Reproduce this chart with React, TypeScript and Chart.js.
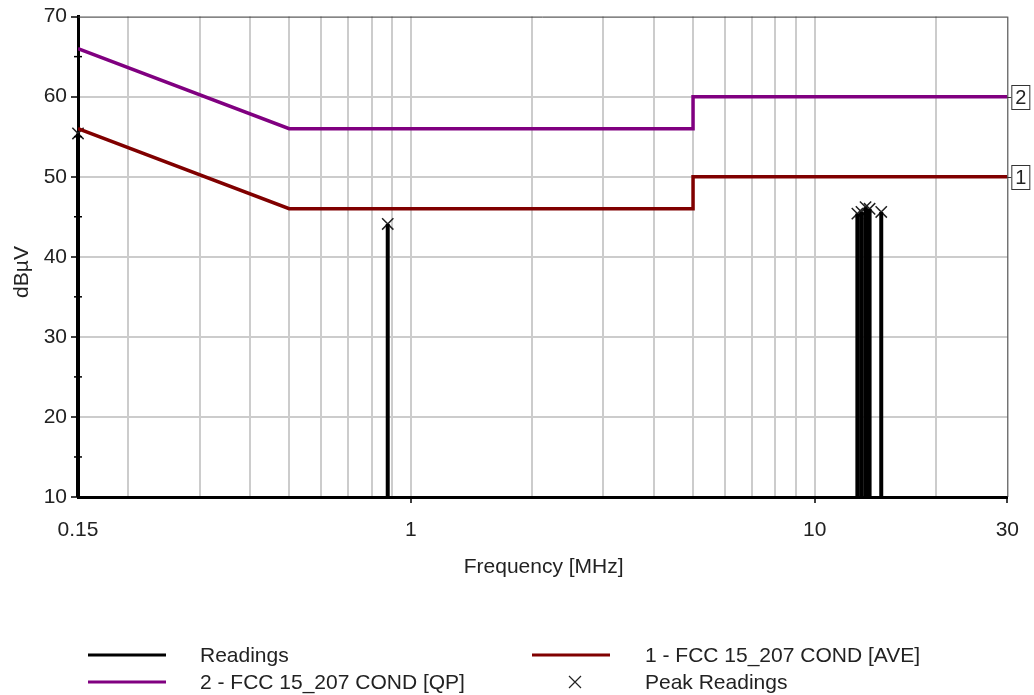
import React, { useEffect, useRef } from "react";
import { Chart, registerables } from "chart.js";

Chart.register(...registerables);

// ---- data ----
const readingFreqs = [0.15, 0.877, 12.76, 13.06, 13.37, 13.68, 14.62];
const readingValues = [55.4, 44.1, 45.4, 45.6, 46.2, 46.0, 45.6];
const aveFreqs = [0.15, 0.5, 5, 5, 30];
const aveLimit = [56, 46, 46, 50, 50];
const qpFreqs = [0.15, 0.5, 5, 5, 30];
const qpLimit = [66, 56, 56, 60, 60];
const xTickValues = [0.15, 0.2, 0.3, 0.4, 0.5, 0.6, 0.7, 0.8, 0.9, 1, 2, 3, 4, 5, 6, 7, 8, 9, 10, 20, 30];
const xTickLabels = ["0.15", "1", "10", "30"];
const yTickValues = [10, 20, 30, 40, 50, 60, 70];
const yMin = 10;
const yMax = 70;
const xMin = 0.15;
const xMax = 30;
const limitTags = [
  { label: "2", value: 60 },
  { label: "1", value: 50 },
];

const FONT = "'Liberation Sans', Arial, sans-serif";
const TEXT = "#222";
const AVE_COLOR = "#800000";
const QP_COLOR = "#800080";

const readingSegments: any[] = [];
readingFreqs.forEach((f, i) => {
  readingSegments.push({ x: f, y: yMin });
  readingSegments.push({ x: f, y: readingValues[i] });
  readingSegments.push({ x: f, y: null });
});

const decorPlugin = {
  id: "decor",
  afterDraw(chart: any) {
    const { ctx, chartArea } = chart;
    const ys = chart.scales.y;
    ctx.save();
    // top & right frame
    ctx.strokeStyle = "#333";
    ctx.lineWidth = 1;
    ctx.beginPath();
    ctx.moveTo(chartArea.left, chartArea.top + 0.5);
    ctx.lineTo(chartArea.right, chartArea.top + 0.5);
    ctx.moveTo(chartArea.right + 0.5, chartArea.top);
    ctx.lineTo(chartArea.right + 0.5, chartArea.bottom);
    ctx.stroke();

    // minor y ticks
    ctx.strokeStyle = "#000";
    ctx.lineWidth = 1.5;
    for (let v = 15; v < 70; v += 10) {
      const py = ys.getPixelForValue(v);
      ctx.beginPath();
      ctx.moveTo(chartArea.left - 4, py);
      ctx.lineTo(chartArea.left + 4, py);
      ctx.stroke();
    }

    // limit tags on right
    ctx.font = `20px ${FONT}`;
    ctx.textAlign = "center";
    ctx.textBaseline = "middle";
    limitTags.forEach((t) => {
      const py = Math.round(ys.getPixelForValue(t.value));
      const bx = chartArea.right + 4;
      const bw = 18;
      const bh = 24;
      ctx.strokeStyle = "#333";
      ctx.lineWidth = 1;
      ctx.beginPath();
      ctx.moveTo(chartArea.right, py + 0.5);
      ctx.lineTo(bx, py + 0.5);
      ctx.stroke();
      ctx.fillStyle = "#fff";
      ctx.fillRect(bx + 0.5, py - bh / 2 + 0.5, bw, bh);
      ctx.strokeRect(bx + 0.5, py - bh / 2 + 0.5, bw, bh);
      ctx.fillStyle = TEXT;
      ctx.fillText(t.label, bx + bw / 2 + 0.5, py + 1);
    });

    // axis titles
    ctx.fillStyle = TEXT;
    ctx.font = `21px ${FONT}`;
    ctx.textAlign = "center";
    ctx.textBaseline = "middle";
    ctx.fillText("Frequency [MHz]", (chartArea.left + chartArea.right) / 2 + 1, 567);
    ctx.save();
    ctx.translate(22, 272);
    ctx.rotate(-Math.PI / 2);
    ctx.fillText("dBµV", 0, 0);
    ctx.restore();

    // legend
    const items = [
      { x: 88, y: 655, color: "#000", text: "Readings", type: "line" },
      { x: 532, y: 655, color: AVE_COLOR, text: "1 - FCC 15_207 COND [AVE]", type: "line" },
      { x: 88, y: 682, color: QP_COLOR, text: "2 - FCC 15_207 COND [QP]", type: "line" },
      { x: 532, y: 682, color: "#000", text: "Peak Readings", type: "cross" },
    ];
    items.forEach((it) => {
      if (it.type === "line") {
        ctx.strokeStyle = it.color;
        ctx.lineWidth = 3;
        ctx.beginPath();
        ctx.moveTo(it.x, it.y);
        ctx.lineTo(it.x + 78, it.y);
        ctx.stroke();
      } else {
        ctx.strokeStyle = "#222";
        ctx.lineWidth = 1.2;
        const cx = it.x + 43;
        const r = 6;
        ctx.beginPath();
        ctx.moveTo(cx - r, it.y - r);
        ctx.lineTo(cx + r, it.y + r);
        ctx.moveTo(cx + r, it.y - r);
        ctx.lineTo(cx - r, it.y + r);
        ctx.stroke();
      }
      ctx.fillStyle = TEXT;
      ctx.textAlign = "left";
      ctx.textBaseline = "middle";
      ctx.fillText(it.text, it.x + (it.x < 300 ? 112 : 113), it.y + 1);
    });
    ctx.restore();
  },
};

export default function App() {
  const ref = useRef<HTMLCanvasElement | null>(null);
  useEffect(() => {
    document.body.style.margin = "0";
    const canvas = ref.current;
    if (!canvas) return;
    Chart.defaults.font.family = FONT;
    const chart = new Chart(canvas, {
      type: "line",
      data: {
        datasets: [
          {
            label: "2 - FCC 15_207 COND [QP]",
            data: qpFreqs.map((f, i) => ({ x: f, y: qpLimit[i] })),
            borderColor: QP_COLOR,
            borderWidth: 3.5,
            pointRadius: 0,
            tension: 0,
          },
          {
            label: "1 - FCC 15_207 COND [AVE]",
            data: aveFreqs.map((f, i) => ({ x: f, y: aveLimit[i] })),
            borderColor: AVE_COLOR,
            borderWidth: 3.5,
            pointRadius: 0,
            tension: 0,
          },
          {
            label: "Readings",
            data: readingSegments,
            borderColor: "#000",
            borderWidth: 4,
            pointRadius: 0,
            spanGaps: false,
            clip: 8,
          } as any,
          {
            label: "Peak Readings",
            data: readingFreqs.map((f, i) => ({ x: f, y: readingValues[i] })),
            showLine: false,
            pointStyle: "crossRot",
            pointRadius: 8,
            pointBorderWidth: 1.5,
            pointBorderColor: "#222",
            borderColor: "#222",
            clip: 12,
          } as any,
        ],
      },
      plugins: [decorPlugin],
      options: {
        responsive: false,
        animation: false,
        layout: { padding: { top: 16, right: 26, left: 0, bottom: 0 } },
        plugins: {
          legend: { display: false },
          tooltip: { enabled: false },
        },
        scales: {
          x: {
            type: "logarithmic",
            min: xMin,
            max: xMax,
            afterBuildTicks: (scale: any) => {
              scale.ticks = xTickValues.map((v) => ({ value: v }));
            },
            afterFit: (scale: any) => {
              scale.height = 198;
            },
            ticks: {
              autoSkip: false,
              maxRotation: 0,
              color: TEXT,
              font: { size: 21, family: FONT },
              padding: 15,
              callback: (v: any) => {
                const s = String(Number(v));
                return xTickLabels.includes(s) ? s : "";
              },
            },
            grid: {
              color: (c: any) => {
                const v = c.tick ? c.tick.value : 0;
                return v === xMin || v === xMax ? "rgba(0,0,0,0)" : "#cccccc";
              },
              lineWidth: 2,
              tickLength: 6,
              tickColor: (c: any) => {
                const v = c.tick ? String(Number(c.tick.value)) : "";
                return xTickLabels.includes(v) && v !== "0.15" ? "#000" : "rgba(0,0,0,0)";
              },
              tickWidth: 1.5,
            },
            border: { color: "#000", width: 3 },
          },
          y: {
            type: "linear",
            min: yMin,
            max: yMax,
            afterBuildTicks: (scale: any) => {
              scale.ticks = yTickValues.map((v) => ({ value: v }));
            },
            afterFit: (scale: any) => {
              scale.width = 78;
            },
            ticks: {
              color: TEXT,
              font: { size: 21, family: FONT },
              padding: 4,
            },
            grid: {
              color: (c: any) => {
                const v = c.tick ? c.tick.value : 0;
                return v === yMin || v === yMax ? "rgba(0,0,0,0)" : "#cccccc";
              },
              lineWidth: 2,
              tickLength: 7,
              tickColor: "#000",
              tickWidth: 1.5,
            },
            border: { color: "#000", width: 3 },
          },
        },
      },
    } as any);
    return () => chart.destroy();
  }, []);
  return (
    <div style={{ width: 1034, height: 695, background: "#fff" }}>
      <canvas ref={ref} width={1034} height={695} style={{ display: "block" }} />
    </div>
  );
}
